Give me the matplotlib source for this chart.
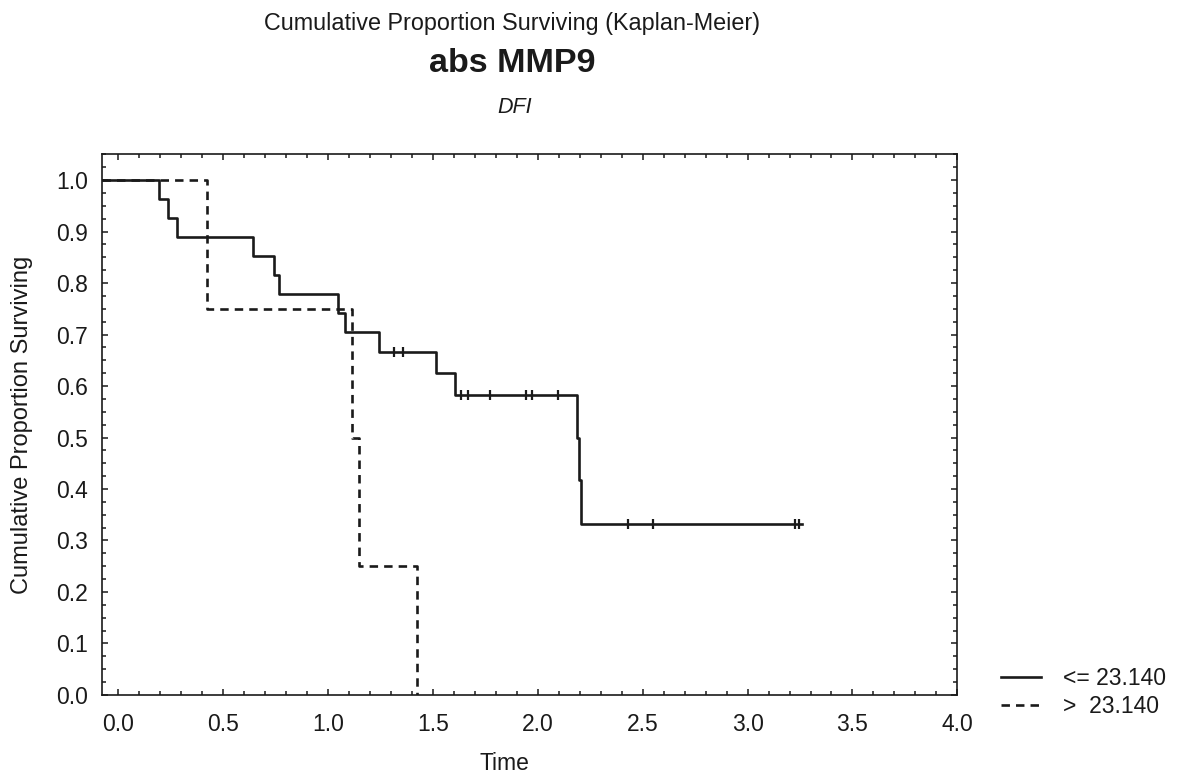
import numpy as np
import matplotlib
matplotlib.use("Agg")
from matplotlib import pyplot as plt
from matplotlib.ticker import MultipleLocator

plt.rcParams['font.family'] = ['Liberation Sans', 'DejaVu Sans']

# group <= 23.140 (solid), step times and survival values
low_t = [0.0, 0.193, 0.236, 0.279, 0.640, 0.743, 0.766, 1.049, 1.081, 1.244,
         1.512, 1.604, 2.185, 2.196, 2.207]
low_s = [1.0, 0.963, 0.926, 0.889, 0.852, 0.815, 0.778, 0.741, 0.704, 0.667,
         0.625, 0.583, 0.500, 0.417, 0.333]
low_end = 3.26
low_cens = [1.312, 1.356, 1.632, 1.668, 1.772, 1.943, 1.970, 2.094, 2.43, 2.55,
            3.225, 3.245]

# group > 23.140 (dashed)
high_t = [0.0, 0.42, 1.113, 1.145, 1.424]
high_s = [1.0, 0.75, 0.50, 0.25, 0.0]

labels = ['<= 23.140', '>  23.140']
yticks = [0.0, 0.1, 0.2, 0.3, 0.4, 0.5, 0.6, 0.7, 0.8, 0.9, 1.0]
xticks = [0.0, 0.5, 1.0, 1.5, 2.0, 2.5, 3.0, 3.5, 4.0]
xmin, xmax = -0.08, 4.0


def surv_at(times, surv, t):
    idx = np.searchsorted(times, t, side='right') - 1
    return np.asarray(surv)[idx]


fig = plt.figure(figsize=(11.81, 7.78), dpi=100)
ax = fig.add_axes([0.0861, 0.1067, 0.7245, 0.695])

# Statistica draws the curves from the left edge of the plot
ax.step([xmin] + low_t + [low_end], [low_s[0]] + low_s + [low_s[-1]],
        where='post', color='#1a1a1a', lw=1.9, label=labels[0])
ax.plot(low_cens, surv_at(low_t, low_s, low_cens), ls='none', marker='|',
        ms=7, mew=1.6, color='#1a1a1a')
ax.step([xmin] + high_t, [high_s[0]] + high_s, where='post', color='#1a1a1a',
        lw=1.9, dashes=(3.2, 2.3), label=labels[1])

ax.set_xlim(xmin, xmax)
ax.set_ylim(0.0, 1.05)
ax.set_xticks(xticks)
ax.set_yticks(yticks)
ax.set_xticklabels([f'{v:.1f}' for v in xticks])
ax.set_yticklabels([f'{v:.1f}' for v in yticks])
ax.xaxis.set_minor_locator(MultipleLocator(0.1))
ax.yaxis.set_minor_locator(MultipleLocator(0.025))
ax.tick_params(which='both', direction='in', top=True, right=True,
               color='#1a1a1a', width=1.1)
ax.tick_params(which='major', length=4, labelsize=16.5, pad=10,
               labelcolor='#1a1a1a')
ax.tick_params(axis='x', which='major', pad=13)
ax.tick_params(which='minor', length=3)
for sp in ax.spines.values():
    sp.set_linewidth(1.2)
    sp.set_color('#1a1a1a')

fig.text(0.4335, 0.970, 'Cumulative Proportion Surviving (Kaplan-Meier)',
         ha='center', va='center', fontsize=16.8, color='#1a1a1a')
fig.text(0.4335, 0.918, 'abs MMP9', ha='center', va='center',
         fontsize=24.6, fontweight='bold', color='#1a1a1a')
fig.text(0.436, 0.862, 'DFI', ha='center', va='center', fontsize=15.5,
         style='italic', color='#1a1a1a')
fig.text(0.019, 0.4544, 'Cumulative Proportion Surviving', rotation=90,
         ha='center', va='center', fontsize=17, color='#1a1a1a')
fig.text(0.427, 0.018, 'Time', ha='center', va='center', fontsize=16.5,
         color='#1a1a1a')

fig.legend(loc='upper left', bbox_to_anchor=(0.838, 0.157), frameon=False,
           borderpad=0, fontsize=16.5, handlelength=1.75, handletextpad=0.95,
           labelspacing=0.22, labelcolor='#1a1a1a')

fig.savefig('out.png', dpi=100)
